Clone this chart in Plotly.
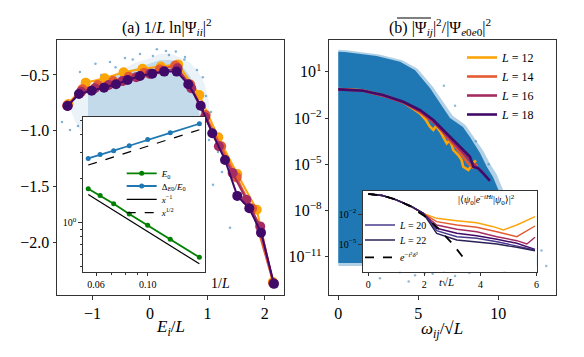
import numpy as np
import plotly.graph_objects as go

W, H = 584, 357
FONT = "Liberation Serif, DejaVu Serif, serif"

# ---------------- Panel (a): main curves  (E_i/L , 1/L ln|Psi_ii|^2) ----------------
L12_x = [-1.42, -1.12, -0.79, -0.46, -0.13, 0.19, 0.49, 0.86, 1.19, 1.52, 1.86, 2.14]
L12_y = [-0.76, -0.569, -0.53, -0.476, -0.445, -0.425, -0.405, -0.68, -1.06, -1.39, -1.71, -2.36]
L14_x = [-1.44, -1.18, -0.91, -0.64, -0.37, -0.10, 0.17, 0.44, 0.70, 0.97, 1.24, 1.51, 1.78, 2.15]
L14_y = [-0.775, -0.628, -0.59, -0.555, -0.515, -0.48, -0.45, -0.415, -0.585, -0.86, -1.14, -1.42, -1.70, -2.37]
L16_x = [-1.44, -1.20, -0.96, -0.72, -0.48, -0.24, 0.00, 0.24, 0.48, 0.72, 0.96, 1.20, 1.44, 1.68, 1.92, 2.15]
L16_y = [-0.776, -0.65, -0.62, -0.59, -0.555, -0.52, -0.49, -0.465, -0.44, -0.62, -0.88, -1.14, -1.38, -1.62, -1.86, -2.37]
L18_x = [-1.434, -1.237, -1.016, -0.801, -0.592, -0.389, -0.174, 0.040, 0.249, 0.465, 0.667, 0.883,
         1.085, 1.307, 1.521, 1.730, 1.934, 2.160]
L18_y = [-0.778, -0.671, -0.641, -0.614, -0.583, -0.545, -0.509, -0.488, -0.470, -0.470, -0.583, -0.776,
         -1.023, -1.263, -1.586, -1.697, -1.916, -2.376]

# cloud of eigenstate values (outer envelope, dense core, scattered outliers)
cloudA_outer_x = [-1.40, -1.31, -1.05, -0.78, -0.52, -0.26, 0.0, 0.17, 0.35, 0.52, 0.70, 0.84, 0.95,
                  1.02, 1.05, 0.9, -1.0, -1.30]
cloudA_outer_y = [-0.80, -0.71, -0.63, -0.54, -0.46, -0.39, -0.35, -0.31, -0.31, -0.34, -0.39, -0.47,
                  -0.58, -0.72, -0.88, -1.2, -1.2, -0.92]
cloudA_core_x = [-1.08, -0.784, -0.436, -0.087, 0.174, 0.383, 0.557, 0.697, 0.784, 0.871, 0.871, -1.08]
cloudA_core_y = [-0.617, -0.545, -0.473, -0.41, -0.365, -0.365, -0.419, -0.509, -0.635, -0.877, -1.08, -1.08]
cloudA_pts_x = [-0.697, -0.436, -0.174, 0.279, 0.610, 0.819, 0.976, 1.063, 1.115, 1.028, 1.185, 1.098,
                1.254, 1.394, -1.533, -1.394, -1.254, -1.22, -0.95, 0.12, 0.45, 0.92, -0.30, 0.05,
                0.33, 0.60, -0.60, -0.85]
cloudA_pts_y = [-0.383, -0.347, -0.311, -0.285, -0.338, -0.455, -0.689, -0.832, -0.976, -1.083, -1.191,
                -1.487, -1.371, -1.873, -0.922, -0.994, -0.958, -0.473, -0.40, -0.27, -0.29, -0.52,
                -0.36, -0.33, -0.32, -0.36, -0.43, -0.50]

# ---------------- Panel (a) inset: scaling with 1/L ----------------
inset_L = [18, 16, 14, 12, 10, 8, 6]
E0_vals = [1.70, 1.53, 1.34, 1.14, 0.954, 0.765, 0.576]
Delta_vals = [2.74, 2.92, 3.10, 3.35, 3.69, 4.11, 4.74]
ref_x = [1 / 18, 1 / 6]
ref_inv = [1.55, 0.52]
ref_sqrt = [2.47, 4.31]

# ---------------- Panel (b): |Psi_ij|^2 vs omega/sqrt(L) (log10 values) ----------------
B12_x = [0, 1.5, 3, 4.1, 5.11, 5.48, 5.73, 5.94, 6.11, 6.36, 6.78, 6.98, 7.19, 7.5, 7.71, 7.81, 8.13, 8.34, 8.6]
B12_lg = [-0.12, -0.2, -0.58, -1.0, -1.70, -2.13, -2.57, -2.78, -2.52, -2.85, -3.64, -3.43, -4.08, -4.40,
          -4.73, -5.16, -5.37, -5.05, -4.75]
B14_x = [0, 1.5, 3, 4.1, 5.11, 5.6, 6.0, 6.36, 6.78, 7.29, 7.73, 8.1, 8.4, 8.7]
B14_lg = [-0.13, -0.22, -0.6, -1.0, -1.62, -2.0, -2.3, -2.65, -3.23, -3.82, -4.40, -4.92, -5.2, -5.0]
B16_x = [0, 1.5, 3, 4.1, 5.1, 5.9, 6.7, 7.5, 8.1, 8.6, 9.0]
B16_lg = [-0.14, -0.22, -0.6, -1.0, -1.55, -2.2, -3.05, -3.95, -4.6, -5.15, -5.5]
B18_x = [0, 1.56, 2.81, 4.06, 5.11, 5.94, 6.77, 7.61, 8.23, 8.44, 8.75, 9.06, 9.38, 9.48]
B18_lg = [-0.14, -0.23, -0.51, -0.95, -1.48, -2.13, -3.0, -3.86, -4.51, -5.16, -5.26, -5.59, -5.91, -6.07]

cloudB_x = [0.0, 0.0, 0.4, 1.15, 2.40, 3.86, 4.8, 5.73, 6.36, 6.98, 7.79, 8.23, 8.86, 9.29, 9.67, 9.92,
            10.54, 11.04, 11.8, 12.3, 12.3]
cloudB_lg = [-11.4, 2.30, 2.28, 2.19, 2.02, 1.65, 1.1, -0.06, -1.03, -2.00, -2.59, -3.23, -4.27, -5.18,
             -5.83, -6.48, -7.97, -8.94, -10.2, -11.0, -11.4]
fringeB_x = [0.0, 0.0, 0.5, 1.25, 2.55, 4.0, 4.95, 5.9, 6.5, 7.15, 7.95, 8.4, 9.05, 9.5, 9.9, 10.15,
             10.8, 11.3, 12.0, 12.4, 12.4]
fringeB_lg = [-11.6, 2.42, 2.40, 2.30, 2.12, 1.75, 1.2, 0.05, -0.9, -1.85, -2.45, -3.1, -4.1, -5.0, -5.65,
              -6.3, -7.8, -8.8, -10.0, -10.9, -11.6]
ptsB_x = [3.85, 4.8, 5.4, 5.9, 6.6, 7.3, 8.2, 9.5, 10.4, 11.4, 12.3, 13.0, 4.4, 2.6, 10.9, 11.7, 12.7,
          6.6, 7.3, 8.6, 9.4]
ptsB_lg = [-12.0, -12.2, -12.05, -12.1, -11.9, -12.25, -12.05, -11.85, -11.95, -11.55, -11.4, -11.6,
           -12.6, -12.4, -7.9, -9.0, -10.6, 0.1, -1.2, -3.5, -5.0]

# ---------------- Panel (b) inset: return probability (log10 values) ----------------
t_common = [0, 0.5, 1.0, 1.5, 1.96]
lg_common = [0, -0.15, -0.58, -1.2, -1.93]
t_tail = [2.44, 3.16, 3.87, 4.59, 5.30, 5.95]
R12_t = [2.44, 3.16, 3.87, 4.46, 4.82, 5.30, 5.95]
R12_lg = [-2.43, -2.67, -2.87, -3.27, -3.6, -3.1, -2.27]
R14_t = [2.44, 3.16, 3.87, 4.59, 5.30, 5.95]
R14_lg = [-2.77, -3.1, -3.33, -3.77, -4.27, -3.2]
R16_t = [2.44, 3.16, 3.87, 4.59, 5.30, 5.66, 5.95]
R16_lg = [-3.1, -3.53, -3.77, -4.27, -4.67, -5.0, -4.33]
R18_lg = [-3.43, -3.93, -4.17, -4.53, -4.93, -5.53]
R20_lg = [-3.67, -4.27, -4.43, -4.77, -5.2, -5.6]
R22_lg = [-3.93, -4.6, -4.77, -5.0, -5.33, -5.67]
gauss_t = [0, 0.5, 1, 1.5, 2, 2.5, 3, 3.48]
gauss_lg = [0, -0.14, -0.55, -1.24, -2.2, -3.45, -4.96, -6.68]

C12, C14, C16, C18 = "#fca50a", "#e45a31", "#a52c60", "#420a68"
C20, C22 = "#4a3a8c", "#2c2157"
BLUE = "#1f77b4"
GREEN = "#008000"


def px(p):
    return p / W


def py(p):
    return 1 - p / H


fig = go.Figure()

# ---- panel (a) main
fig.add_trace(go.Scatter(x=cloudA_outer_x, y=cloudA_outer_y, fill="toself", mode="lines",
                         line=dict(width=0), fillcolor="rgba(31,119,180,0.09)", showlegend=False,
                         hoverinfo="skip", xaxis="x", yaxis="y"))
fig.add_trace(go.Scatter(x=cloudA_core_x, y=cloudA_core_y, fill="toself", mode="lines",
                         line=dict(width=0), fillcolor="rgba(31,119,180,0.20)", showlegend=False,
                         hoverinfo="skip", xaxis="x", yaxis="y"))
fig.add_trace(go.Scatter(x=cloudA_pts_x, y=cloudA_pts_y, mode="markers",
                         marker=dict(size=2.5, color="rgba(31,119,180,0.55)"), showlegend=False,
                         xaxis="x", yaxis="y"))
for xs, ys, c in [(L12_x, L12_y, C12), (L14_x, L14_y, C14), (L16_x, L16_y, C16), (L18_x, L18_y, C18)]:
    fig.add_trace(go.Scatter(x=xs, y=ys, mode="lines+markers", line=dict(color=c, width=2),
                             marker=dict(color=c, size=10), showlegend=False, xaxis="x", yaxis="y"))

# ---- panel (a) inset
Lx = [1 / v for v in inset_L]
fig.add_trace(go.Scatter(x=Lx, y=E0_vals, mode="lines+markers", name="<i>E</i><sub>0</sub>",
                         line=dict(color=GREEN, width=1.8), marker=dict(color=GREEN, size=5),
                         xaxis="x2", yaxis="y2", legend="legend2"))
fig.add_trace(go.Scatter(x=Lx, y=Delta_vals, mode="lines+markers",
                         name="Δ<sub><i>E</i>0</sub>/<i>E</i><sub>0</sub>",
                         line=dict(color=BLUE, width=1.8), marker=dict(color=BLUE, size=5),
                         xaxis="x2", yaxis="y2", legend="legend3"))
fig.add_trace(go.Scatter(x=ref_x, y=ref_inv, mode="lines", name="<i>x</i><sup>−1</sup>",
                         line=dict(color="black", width=1.2), xaxis="x2", yaxis="y2", legend="legend4"))
fig.add_trace(go.Scatter(x=ref_x, y=ref_sqrt, mode="lines", name="<i>x</i><sup>1/2</sup>",
                         line=dict(color="black", width=1.2, dash="dash"), xaxis="x2", yaxis="y2",
                         legend="legend5"))

# ---- panel (b) main
fig.add_trace(go.Scatter(x=fringeB_x, y=np.power(10.0, fringeB_lg), fill="toself", mode="lines",
                         line=dict(width=0), fillcolor="rgba(31,119,180,0.35)", showlegend=False,
                         hoverinfo="skip", xaxis="x3", yaxis="y3"))
fig.add_trace(go.Scatter(x=cloudB_x, y=np.power(10.0, cloudB_lg), fill="toself", mode="lines",
                         line=dict(width=0), fillcolor=BLUE, showlegend=False,
                         hoverinfo="skip", xaxis="x3", yaxis="y3"))
fig.add_trace(go.Scatter(x=ptsB_x, y=np.power(10.0, ptsB_lg), mode="markers",
                         marker=dict(size=2.5, color="rgba(31,119,180,0.5)"), showlegend=False,
                         xaxis="x3", yaxis="y3"))
for xs, lg, c, n in [(B12_x, B12_lg, C12, 12), (B14_x, B14_lg, C14, 14), (B16_x, B16_lg, C16, 16),
                     (B18_x, B18_lg, C18, 18)]:
    fig.add_trace(go.Scatter(x=xs, y=np.power(10.0, lg), mode="lines", name=f"<i>L</i> = {n}",
                             line=dict(color=c, width=2.6), xaxis="x3", yaxis="y3", legend="legend"))

# ---- panel (b) inset
tails = [(R12_t, R12_lg, C12, None), (R14_t, R14_lg, C14, None), (R16_t, R16_lg, C16, None),
         (t_tail, R18_lg, C18, None), (t_tail, R20_lg, C20, ("legend6", 20)),
         (t_tail, R22_lg, C22, ("legend7", 22))]
for ts, lg, c, leg in tails:
    tt = t_common + ts
    ll = lg_common + lg
    kw = dict(showlegend=False)
    if leg:
        kw = dict(showlegend=True, legend=leg[0], name=f"<i>L</i> = {leg[1]}")
    fig.add_trace(go.Scatter(x=tt, y=np.power(10.0, ll), mode="lines", line=dict(color=c, width=1.4),
                             xaxis="x4", yaxis="y4", **kw))
fig.add_trace(go.Scatter(x=gauss_t, y=np.power(10.0, gauss_lg), mode="lines",
                         name="<i>e</i><sup>−<i>t</i>²<i>δ</i>²</sup>",
                         line=dict(color="black", width=1.8, dash="dash"), xaxis="x4", yaxis="y4",
                         legend="legend8"))

frame = dict(showline=True, mirror=True, linecolor="#333", linewidth=1, showgrid=False, zeroline=False,
             ticks="outside", ticklen=3.5, tickwidth=1, tickcolor="#333")
main_tf = dict(family=FONT, size=16, color="black")
ins_tf = dict(family=FONT, size=10, color="black")

yd = [py(295), py(40)]
fig.update_layout(
    width=W, height=H, margin=dict(l=0, r=0, t=0, b=0, autoexpand=False),
    paper_bgcolor="white", plot_bgcolor="white",
    font=dict(family=FONT, color="black", size=12),
    xaxis=dict(domain=[px(57), px(283.5)], range=[-1.62, 2.326], anchor="y",
               tickvals=[-1, 0, 1, 2], ticktext=["−1", "0", "1", "2"], tickfont=main_tf, **frame),
    yaxis=dict(domain=yd, range=[-2.476, -0.186], anchor="x",
               tickvals=[-0.5, -1, -1.5, -2], ticktext=["−0.5", "−1.0", "−1.5", "−2.0"],
               tickfont=main_tf, **frame),
    xaxis2=dict(type="log", domain=[px(82.7), px(205)], range=[-1.279, -0.754], anchor="y2",
                tickvals=[0.06, 0.1], ticktext=["0.06", "0.10"], tickfont=ins_tf,
                minor=dict(tickvals=[0.07, 0.08, 0.09], ticks="outside", ticklen=2, tickcolor="#333"),
                **frame),
    yaxis2=dict(type="log", domain=[py(271.7), py(116.7)], range=[-0.338, 0.724], anchor="x2",
                tickvals=[1], ticktext=["10<sup>0</sup>"], tickfont=ins_tf,
                minor=dict(tickvals=[0.5, 0.6, 0.7, 0.8, 0.9, 2, 3, 4, 5], ticks="outside", ticklen=2,
                           tickcolor="#333"),
                **frame),
    xaxis3=dict(domain=[px(329.3), px(556)], range=[-0.5625, 13.61], anchor="y3",
                tickvals=[0, 5, 10], ticktext=["0", "5", "10"], tickfont=main_tf, **frame),
    yaxis3=dict(type="log", domain=yd, range=[-13.48, 3.06], anchor="x3",
                tickvals=[1e1, 1e-2, 1e-5, 1e-8, 1e-11],
                ticktext=["10<sup>1</sup>", "10<sup>−2</sup>", "10<sup>−5</sup>", "10<sup>−8</sup>",
                          "10<sup>−11</sup>"], tickfont=main_tf, **frame),
    xaxis4=dict(domain=[px(362.7), px(536.7)], range=[-0.2, 6.01], anchor="y4",
                tickvals=[0, 2, 4, 6], ticktext=["0", "2", "4", "6"], tickfont=ins_tf, **frame),
    yaxis4=dict(type="log", domain=[py(271.7), py(190.7)], range=[-7.77, 0.33], anchor="x4",
                tickvals=[1e-2, 1e-5], ticktext=["10<sup>−2</sup>", "10<sup>−5</sup>"],
                tickfont=ins_tf, **frame),
)

nolegbox = dict(bgcolor="rgba(0,0,0,0)", borderwidth=0, itemwidth=30, xanchor="left")
fig.update_layout(
    legend=dict(x=px(462), y=py(43), yanchor="top", font=dict(family=FONT, size=12),
                tracegroupgap=0, **nolegbox),
    legend2=dict(x=px(121.7), y=py(173.3), yanchor="middle", font=dict(family=FONT, size=9), **nolegbox),
    legend3=dict(x=px(121.7), y=py(186), yanchor="middle", font=dict(family=FONT, size=9), **nolegbox),
    legend4=dict(x=px(121.7), y=py(199.3), yanchor="middle", font=dict(family=FONT, size=9), **nolegbox),
    legend5=dict(x=px(121.7), y=py(212.7), yanchor="middle", font=dict(family=FONT, size=9), **nolegbox),
    legend6=dict(x=px(360), y=py(225), yanchor="middle", font=dict(family=FONT, size=10), **nolegbox),
    legend7=dict(x=px(360), y=py(240), yanchor="middle", font=dict(family=FONT, size=10), **nolegbox),
    legend8=dict(x=px(360), y=py(257.3), yanchor="middle", font=dict(family=FONT, size=10), **nolegbox),
)

ann = [
    ("(a) 1/<i>L</i> ln|Ψ<sub><i>ii</i></sub>|<sup>2</sup>", 167, 27, 16),
    ("(b) |Ψ<sub><i>ij</i></sub>|<sup>2</sup>/|Ψ<sub><i>e</i>0<i>e</i>0</sub>|<sup>2</sup>", 440, 27, 16),
    ("<i>E<sub>i</sub></i>/<i>L</i>", 170, 328, 17),
    ("<i>ω<sub>ij</sub></i>/√<i>L</i>", 442, 330, 17),
    ("1/<i>L</i>", 220, 283, 14),
    ("<i>t</i>√<i>L</i>", 446.7, 281.7, 11),
    ("|⟨<i>ψ</i><sub>0</sub>|<i>e</i><sup>−<i>iHt</i></sup>|<i>ψ</i><sub>0</sub>⟩|<sup>2</sup>", 487, 200, 10),
]
for text, x, y, s in ann:
    fig.add_annotation(text=text, x=px(x), y=py(y), xref="paper", yref="paper", showarrow=False,
                       xanchor="center", yanchor="middle", font=dict(family=FONT, size=s, color="black"))

# overline of the averaged quantity in title (b)
fig.add_shape(type="line", xref="paper", yref="paper", x0=px(397), x1=px(431), y0=py(18), y1=py(18),
              line=dict(color="black", width=1))

fig.write_html("out.html", config={"displayModeBar": False},
               post_script="document.body.style.margin='0';document.body.style.padding='0';")
